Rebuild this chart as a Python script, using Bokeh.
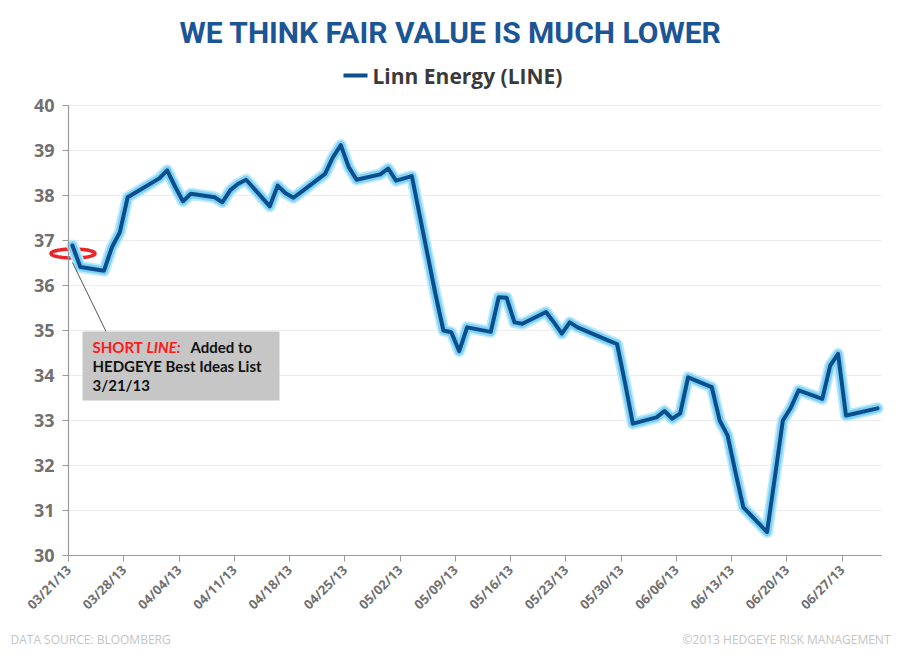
import numpy as np
import pandas as pd
from bokeh.plotting import figure
from bokeh.models import (Range1d, FixedTicker, DatetimeTickFormatter, Label,
                          BoxAnnotation, Arrow, PolyAnnotation, ColumnDataSource)
from bokeh.embed import file_html
from bokeh.resources import INLINE

# ---------------- data ----------------
title_text = "WE THINK FAIR VALUE IS MUCH LOWER"
series_name = "Linn Energy (LINE)"
source_text = "DATA SOURCE: BLOOMBERG"
copyright_text = "\u00a92013 HEDGEYE RISK MANAGEMENT"
note_lines = ["SHORT", "LINE:", "Added to", "HEDGEYE Best Ideas List", "3/21/13"]

dates = ["2013-03-21", "2013-03-22", "2013-03-25", "2013-03-26", "2013-03-27", "2013-03-28",
         "2013-04-01", "2013-04-02", "2013-04-03", "2013-04-04", "2013-04-05",
         "2013-04-08", "2013-04-09", "2013-04-10", "2013-04-11", "2013-04-12",
         "2013-04-15", "2013-04-16", "2013-04-17", "2013-04-18", "2013-04-19",
         "2013-04-22", "2013-04-23", "2013-04-24", "2013-04-25", "2013-04-26",
         "2013-04-29", "2013-04-30", "2013-05-01", "2013-05-02", "2013-05-03",
         "2013-05-06", "2013-05-07", "2013-05-08", "2013-05-09", "2013-05-10",
         "2013-05-13", "2013-05-14", "2013-05-15", "2013-05-16", "2013-05-17",
         "2013-05-20", "2013-05-21", "2013-05-22", "2013-05-23", "2013-05-24",
         "2013-05-28", "2013-05-29", "2013-05-30", "2013-05-31",
         "2013-06-03", "2013-06-04", "2013-06-05", "2013-06-06", "2013-06-07",
         "2013-06-10", "2013-06-11", "2013-06-12", "2013-06-13", "2013-06-14",
         "2013-06-17", "2013-06-18", "2013-06-19", "2013-06-20", "2013-06-21",
         "2013-06-24", "2013-06-25", "2013-06-26", "2013-06-27", "2013-06-28",
         "2013-07-01"]
prices = [36.89, 36.41, 36.33, 36.85, 37.18, 37.96,
          38.38, 38.56, 38.20, 37.87, 38.04,
          37.96, 37.85, 38.12, 38.26, 38.35,
          37.76, 38.22, 38.05, 37.95, 38.08,
          38.48, 38.85, 39.12, 38.63, 38.35,
          38.47, 38.60, 38.33, 38.38, 38.43,
          35.80, 35.00, 34.96, 34.54, 35.07,
          34.97, 35.74, 35.73, 35.18, 35.15,
          35.41, 35.18, 34.93, 35.18, 35.07,
          34.77, 34.70, 33.84, 32.93,
          33.07, 33.21, 33.04, 33.16, 33.96,
          33.74, 33.00, 32.67, 31.85, 31.07,
          30.52, 31.75, 33.00, 33.28, 33.67,
          33.48, 34.22, 34.48, 33.11, 33.15,
          33.27]
x_tick_dates = ["2013-03-21", "2013-03-28", "2013-04-04", "2013-04-11", "2013-04-18",
                "2013-04-25", "2013-05-02", "2013-05-09", "2013-05-16", "2013-05-23",
                "2013-05-30", "2013-06-06", "2013-06-13", "2013-06-20", "2013-06-27"]
y_ticks = [30, 31, 32, 33, 34, 35, 36, 37, 38, 39, 40]
x_start_date = "2013-03-21"
x_end_date = "2013-07-02"

# ---------------- layout (page pixels) ----------------
W, H = 892, 652
AXIS_X, PLOT_RIGHT = 68, 881
PLOT_TOP, PLOT_BOTTOM = 105, 555

DAY_MS = 86400000.0
start_ms = pd.Timestamp(x_start_date).value / 1e6
end_ms = pd.Timestamp(x_end_date).value / 1e6
px_per_ms = (PLOT_RIGHT - AXIS_X) / (end_ms - start_ms)
ymin, ymax = y_ticks[0], y_ticks[-1]
px_per_unit = (PLOT_BOTTOM - PLOT_TOP) / (ymax - ymin)

def X(px):
    return start_ms + (px - AXIS_X) / px_per_ms

def Y(py):
    return ymax - (py - PLOT_TOP) / px_per_unit

# the frame covers the whole canvas; axes are pinned at their data positions
p = figure(width=W, height=H, x_axis_type="datetime", output_backend="svg",
           toolbar_location=None, title=None,
           min_border_left=0, min_border_right=0, min_border_top=0, min_border_bottom=0,
           x_range=Range1d(X(0), X(W)), y_range=Range1d(Y(H), Y(0)))
p.background_fill_color = "white"
p.border_fill_color = "white"
p.outline_line_color = None
p.grid.visible = False

# horizontal gridlines from the y tick values, from the axis to the right edge
p.segment(x0=[start_ms] * len(y_ticks), y0=y_ticks, x1=[end_ms] * len(y_ticks), y1=y_ticks,
          line_color="#ececec", line_width=1)

# red marker ring at entry (under the line)
t = np.linspace(0, 2 * np.pi, 72)
p.add_layout(PolyAnnotation(xs=[X(72.5 + 22 * np.cos(a)) for a in t],
                            ys=[Y(253 + 4.5 * np.sin(a)) for a in t],
                            fill_color="#ffe0e0", fill_alpha=0.25,
                            line_color="#e8262a", line_alpha=1, line_width=3.5,
                            level="underlay"))

x = pd.to_datetime(dates) + pd.Timedelta(hours=12)
src = ColumnDataSource(dict(x=x, y=prices))
p.line("x", "y", source=src, line_width=12, line_color="#c0eafb", line_join="round", line_cap="round")
p.line("x", "y", source=src, line_width=8.5, line_color="#7fd2f3", line_join="round", line_cap="round")
p.line("x", "y", source=src, line_width=4, line_color="#0b4e8d", line_join="round", line_cap="round")

tick_ms = [pd.Timestamp(d).value / 1e6 for d in x_tick_dates]
p.xaxis.ticker = FixedTicker(ticks=tick_ms)
fmt = "%m/%d/%y"
p.xaxis.formatter = DatetimeTickFormatter(days=fmt, months=fmt, years=fmt, hours=fmt,
                                          hourmin=fmt, minutes=fmt, minsec=fmt,
                                          seconds=fmt, milliseconds=fmt, microseconds=fmt)
p.xaxis.major_label_orientation = np.pi / 4
p.xaxis.bounds = (start_ms, end_ms)
p.xaxis.fixed_location = ymin
p.yaxis.ticker = FixedTicker(ticks=y_ticks)
p.yaxis.bounds = (ymin, ymax)
p.yaxis.fixed_location = start_ms
for ax in (p.xaxis[0], p.yaxis[0]):
    ax.axis_line_color = "#9a9a9a"
    ax.axis_line_width = 1.2
    ax.major_tick_line_color = "#9a9a9a"
    ax.major_tick_in = 0
    ax.major_tick_out = 6
    ax.minor_tick_line_color = None
    ax.major_label_text_color = "#707070"
    ax.major_label_text_font = "Open Sans"
    ax.major_label_text_font_style = "bold"
p.xaxis.major_label_text_font_size = "13px"
p.xaxis.major_label_standoff = 6
p.yaxis.major_label_text_font_size = "18px"
p.yaxis.major_label_standoff = 8

# title and legend (label y compensates Bokeh's baseline offset of ~0.4 em)
p.add_layout(Label(x=X(450), y=Y(44 - 12), text=title_text, text_align="center",
                   text_baseline="alphabetic", text_font="Roboto", text_font_style="bold",
                   text_font_size="30px", text_color="#1b5596"))
p.add_layout(BoxAnnotation(left=X(343), right=X(367), top=Y(73), bottom=Y(77),
                           fill_color="#0b4e8d", fill_alpha=1, line_color=None))
p.add_layout(Label(x=X(372), y=Y(83 - 8), text=series_name, text_baseline="alphabetic",
                   text_font="Open Sans", text_font_style="bold", text_font_size="21px",
                   text_color="#3a3a3a"))

# leader line and note box
p.add_layout(Arrow(end=None, x_start=X(72), y_start=Y(262), x_end=X(106), y_end=Y(332),
                   line_color="#555555", line_width=1))
p.add_layout(BoxAnnotation(left=X(82), right=X(279), top=Y(331), bottom=Y(400),
                           fill_color="#c6c6c6", fill_alpha=1, line_color=None))
note_style = dict(text_baseline="alphabetic", text_font="Lato", text_font_size="15px")
p.add_layout(Label(x=X(92), y=Y(346), text=note_lines[0], text_color="#ff1a1a",
                   text_font_style="bold", **note_style))
p.add_layout(Label(x=X(146), y=Y(346), text=note_lines[1], text_color="#ff1a1a",
                   text_font_style="bold italic", **note_style))
p.add_layout(Label(x=X(190), y=Y(346), text=note_lines[2], text_color="#111111",
                   text_font_style="bold", **note_style))
p.add_layout(Label(x=X(92), y=Y(365), text=note_lines[3], text_color="#111111",
                   text_font_style="bold", **note_style))
p.add_layout(Label(x=X(92), y=Y(384), text=note_lines[4], text_color="#111111",
                   text_font_style="bold", **note_style))

# footer
p.add_layout(Label(x=X(10), y=Y(639), text=source_text, text_baseline="alphabetic",
                   text_font="Open Sans", text_font_size="12px", text_color="#c4c4c4"))
p.add_layout(Label(x=X(890), y=Y(639), text=copyright_text, text_baseline="alphabetic",
                   text_align="right", text_font="Open Sans", text_font_size="12px",
                   text_color="#c4c4c4"))

open("out.html", "w").write(file_html(p, INLINE))
